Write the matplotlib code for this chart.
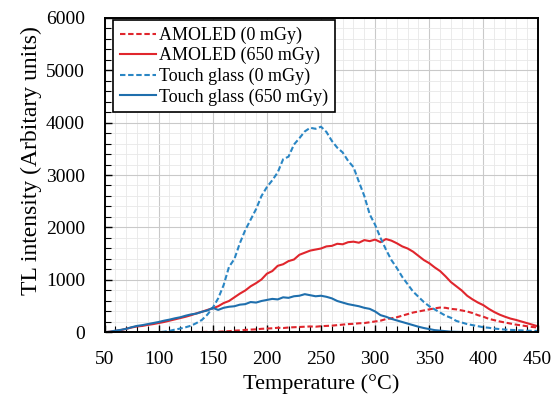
import matplotlib
matplotlib.use("Agg")
import matplotlib.pyplot as plt
from matplotlib.ticker import MultipleLocator

temperature = list(range(50, 451, 5))

amoled_0 = [0, 0, 0, 2, 0, 3, 0, 2, 4, 3, 5, 4, 6, 5, 8, 6, 8, 10, 9, 12,
            10, 15, 20, 25, 35, 40, 50, 55, 60, 70, 75, 80, 90, 85, 95, 100,
            105, 110, 115, 110, 120, 125, 130, 140, 150, 160, 165, 175, 180,
            195, 210, 225, 255, 270, 290, 320, 350, 380, 400, 420, 440, 460,
            475, 470, 450, 440, 420, 400, 370, 330, 300, 260, 235, 210, 190,
            170, 150, 135, 120, 105, 95]

amoled_650 = [5, 15, 30, 45, 70, 95, 115, 125, 145, 160, 180, 200, 225, 250,
              275, 300, 330, 365, 395, 430, 460, 500, 560, 600, 670, 740, 800,
              880, 940, 1010, 1120, 1170, 1270, 1300, 1360, 1390, 1480, 1520,
              1560, 1580, 1600, 1640, 1650, 1690, 1680, 1720, 1730, 1710, 1760,
              1740, 1770, 1720, 1780, 1750, 1700, 1640, 1600, 1540, 1460, 1380,
              1320, 1240, 1170, 1070, 960, 880, 800, 700, 630, 570, 520, 450,
              390, 340, 300, 265, 240, 210, 180, 150, 120]

glass_0 = [0, 0, 0, 0, 0, 0, 0, 0, 0, 0, 5, 15, 30, 55, 75, 100, 130, 180,
           240, 340, 470, 650, 900, 1250, 1400, 1700, 1950, 2150, 2350, 2600,
           2770, 2900, 3050, 3300, 3350, 3580, 3700, 3830, 3900, 3880, 3920,
           3820, 3650, 3520, 3430, 3270, 3150, 2870, 2600, 2250, 2050, 1800,
           1580, 1380, 1230, 1060, 920, 780, 680, 580, 500, 440, 380, 320,
           280, 220, 190, 160, 140, 120, 100, 90, 75, 65, 55, 50, 45, 40, 35,
           32, 30]

glass_650 = [5, 15, 35, 50, 70, 100, 125, 140, 160, 180, 200, 225, 245, 270,
             290, 320, 345, 360, 395, 420, 470, 430, 470, 490, 500, 530, 540,
             580, 570, 600, 620, 640, 630, 670, 660, 690, 700, 730, 710, 690,
             700, 680, 650, 600, 570, 540, 520, 500, 470, 450, 400, 330, 300,
             260, 230, 200, 170, 140, 110, 85, 65, 45, 35, 25, 15, 12, 10, 8,
             6, 5, 5, 4, 4, 3, 3, 3, 3, 3, 3, 3, 3]

labels = ["AMOLED (0 mGy)", "AMOLED (650 mGy)",
          "Touch glass (0 mGy)", "Touch glass (650 mGy)"]

plt.rcParams['font.family'] = ['Liberation Serif', 'DejaVu Serif']

fig = plt.figure(figsize=(5.58, 3.98), dpi=100)
ax = fig.add_axes([0.1873, 0.1646, 0.776, 0.7914])

red = '#E0262D'
blue_d = '#2A86C4'
blue_s = '#1F6FAD'
dash = (2.6, 1.3)

ax.plot(temperature, amoled_0, color=red, lw=1.5, ls=(0, dash), label=labels[0])
ax.plot(temperature, amoled_650, color=red, lw=1.5, label=labels[1])
ax.plot(temperature, glass_0, color=blue_d, lw=1.5, ls=(0, dash), label=labels[2])
ax.plot(temperature, glass_650, color=blue_s, lw=1.5, label=labels[3])

ax.set_xlim(50, 450)
ax.set_ylim(0, 6000)
ax.xaxis.set_major_locator(MultipleLocator(50))
ax.xaxis.set_minor_locator(MultipleLocator(10))
ax.yaxis.set_major_locator(MultipleLocator(1000))
ax.yaxis.set_minor_locator(MultipleLocator(200))
ax.grid(which='major', color='#c9c9c9', lw=0.8)
ax.grid(which='minor', color='#e8e8e8', lw=0.6)
ax.set_axisbelow(True)
ax.tick_params(which='both', direction='in', top=False, right=False,
               labelsize=14)
ax.tick_params(axis='x', which='major', pad=13)
ax.tick_params(axis='y', which='major', pad=14)
ax.tick_params(which='major', length=5, width=1)
ax.tick_params(which='minor', length=4, width=0.8)
for s in ax.spines.values():
    s.set_linewidth(1.4)
    s.set_color('black')

ax.set_xlabel("Temperature (°C)", fontsize=16, labelpad=5)
ax.set_ylabel("TL intensity (Arbitary units)", fontsize=17, labelpad=3)
ax.yaxis.label.set_y(0.545)

leg = ax.legend(loc='upper left', bbox_to_anchor=(0.019, 0.993),
                borderaxespad=0, fontsize=13, frameon=True, fancybox=False,
                edgecolor='black', framealpha=1, borderpad=0.38,
                labelspacing=0.18, handlelength=2.0, handletextpad=0.2)
leg.get_frame().set_linewidth(1.2)

fig.savefig("out.png", dpi=100)
